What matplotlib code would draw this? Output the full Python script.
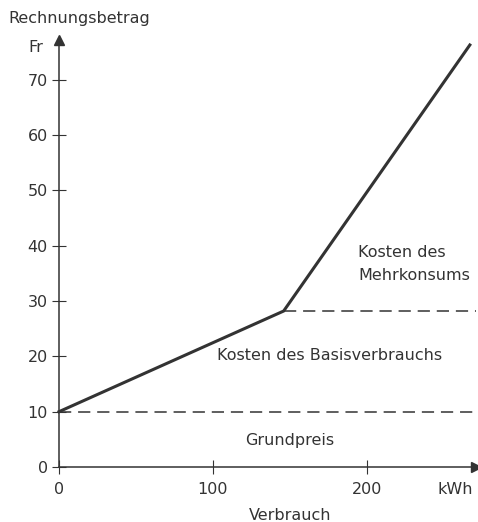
import matplotlib
matplotlib.use("Agg")
import matplotlib.pyplot as plt

# data
cost_x = [0, 146, 267]
cost_y = [10, 28.2, 76.3]
grund_level = 10
basis_level = 28.2
xticks = [0, 100, 200]
yticks = [0, 10, 20, 30, 40, 50, 60, 70]

W, H = 478, 522
fig = plt.figure(figsize=(W/100, H/100), dpi=100)
ax = fig.add_axes([59/W, (H-467)/H, (476-59)/W, (467-40)/H])
ax.set_xlim(0, 271)
ax.set_ylim(0, 77.2)
col = "#333333"
for s in ["top", "right"]:
    ax.spines[s].set_visible(False)
for s in ["left", "bottom"]:
    ax.spines[s].set_color(col)
    ax.spines[s].set_linewidth(1.1)
ax.set_xticks(xticks)
ax.set_yticks(yticks)
ax.tick_params(direction="inout", length=10, width=0.8, colors=col, labelsize=11.5, pad=3)
ax.tick_params(axis="x", pad=6)
ax.plot(1, 0, ">", transform=ax.transAxes, clip_on=False, color=col, markersize=7)
ax.plot(0, 1, "^", transform=ax.transAxes, clip_on=False, color=col, markersize=7)

ax.plot(cost_x, cost_y, color=col, lw=2.2, solid_joinstyle="miter", clip_on=False)
ax.plot([0, 271], [grund_level, grund_level], color=col, lw=1.1, dashes=(8, 4.5))
ax.plot([cost_x[1], 271], [basis_level, basis_level], color=col, lw=1.1, dashes=(8, 4.5))

fs = 11.5
fig.text(8/W, 1-18/H, "Rechnungsbetrag", fontsize=fs, color=col, va="center", ha="left")
fig.text(28/W, 1-48/H, "Fr", fontsize=fs, color=col, va="center", ha="left")
fig.text(455/W, 1-490/H, "kWh", fontsize=fs, color=col, va="center", ha="center")
fig.text(290/W, 1-515/H, "Verbrauch", fontsize=fs, color=col, va="center", ha="center")
fig.text(358/W, 1-252/H, "Kosten des", fontsize=fs, color=col, va="center", ha="left")
fig.text(358/W, 1-275/H, "Mehrkonsums", fontsize=fs, color=col, va="center", ha="left")
fig.text(330/W, 1-355/H, "Kosten des Basisverbrauchs", fontsize=fs, color=col, va="center", ha="center")
fig.text(290/W, 1-440/H, "Grundpreis", fontsize=fs, color=col, va="center", ha="center")

fig.savefig("out.png", dpi=100)
